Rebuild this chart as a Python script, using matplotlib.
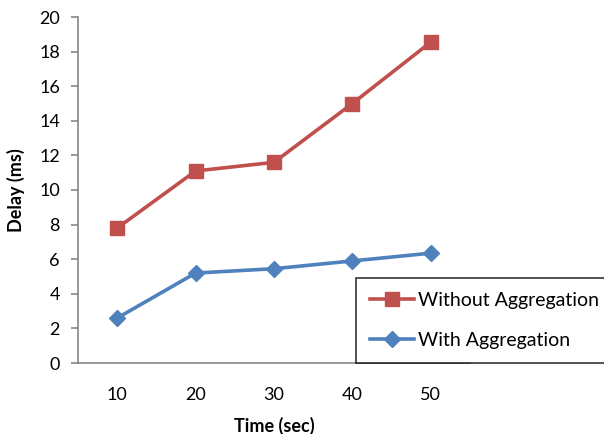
import numpy as np
import matplotlib
matplotlib.use("Agg")
import matplotlib.pyplot as plt

# data
times = ["10", "20", "30", "40", "50"]
without_agg = [7.8, 11.1, 11.6, 15.0, 18.55]
with_agg = [2.6, 5.2, 5.45, 5.9, 6.35]

red = "#C0504D"
blue = "#4F81BD"
grey = "#868686"

plt.rcParams['font.family'] = ['Lato', 'DejaVu Sans']

fig = plt.figure(figsize=(6.04, 4.34), dpi=100)
ax = fig.add_axes([78 / 604, 1 - 363 / 434, 392 / 604, 346 / 434])

x = np.arange(len(times))
ax.plot(x, without_agg, color=red, lw=2.6, marker='s', ms=10,
        mfc=red, mec=red, label="Without Aggregation")
ax.plot(x, with_agg, color=blue, lw=2.6, marker='D', ms=8,
        mfc=blue, mec=blue, label="With Aggregation")

ax.set_xlim(-0.5, len(times) - 0.5)
ax.set_ylim(0, 20)
ax.set_yticks(np.arange(0, 21, 2))
ax.set_xticks(x)
ax.set_xticklabels(times)

for side in ['top', 'right']:
    ax.spines[side].set_visible(False)
for side in ['left', 'bottom']:
    ax.spines[side].set_color(grey)
    ax.spines[side].set_linewidth(1.2)

ax.tick_params(axis='y', length=5, width=1.2, color=grey, labelsize=13, pad=8)
ax.tick_params(axis='x', length=0, labelsize=13, pad=17)

ax.set_xlabel("Time (sec)", fontsize=13, fontweight='bold', labelpad=10)
ax.set_ylabel("Delay (ms)", fontsize=13, fontweight='bold', labelpad=10)

leg = ax.legend(loc='upper left', bbox_to_anchor=(356 / 604, 1 - 278 / 434),
                bbox_transform=fig.transFigure, frameon=True, fancybox=False,
                edgecolor='black', fontsize=14, handlelength=2.3,
                handletextpad=0.2, labelspacing=1.2, borderpad=0.7,
                borderaxespad=0)
leg.get_frame().set_linewidth(1.2)
leg.set_clip_on(False)

fig.savefig("out.png", dpi=100)
